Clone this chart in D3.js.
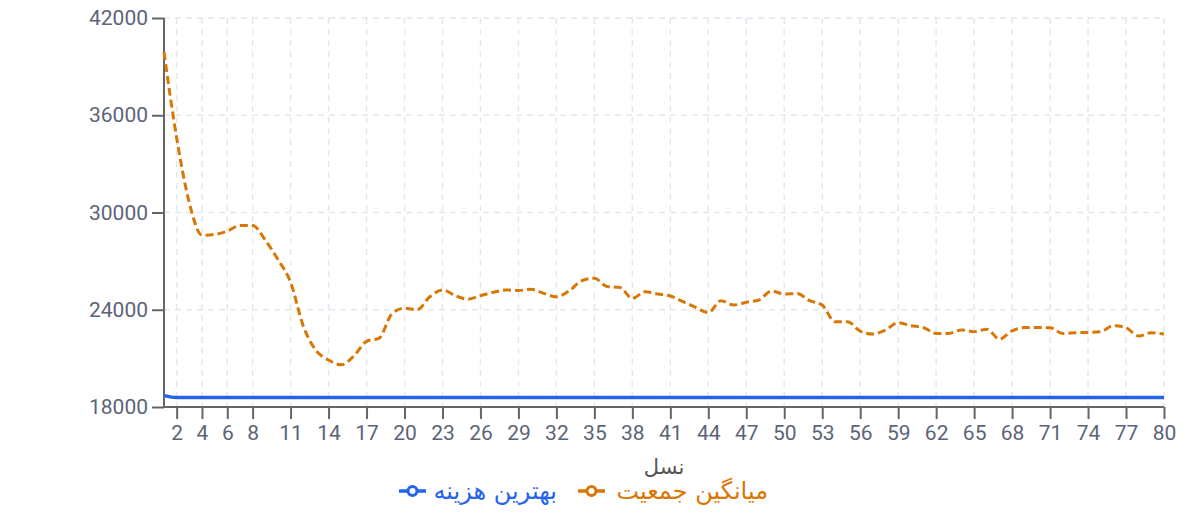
<!DOCTYPE html>
<html>
<head>
<meta charset="utf-8">
<script src="https://cdn.jsdelivr.net/npm/d3@7"></script>
<style>
  body { margin: 0; background: #fff; }
  svg { display: block; font-family: Roboto, "DejaVu Sans", sans-serif; }
</style>
</head>
<body>
<svg width="1188" height="522"></svg>
<script>
// generation numbers (x categories)
const generations = [1,2,3,4,5,6,7,8,9,10,11,12,13,14,15,16,17,18,19,20,
  21,22,23,24,25,26,27,28,29,30,31,32,33,34,35,36,37,38,39,40,
  41,42,43,44,45,46,47,48,49,50,51,52,53,54,55,56,57,58,59,60,
  61,62,63,64,65,66,67,68,69,70,71,72,73,74,75,76,77,78,79,80];

// best cost per generation
const bestCost = [18700,18580,18580,18580,18580,18580,18580,18580,18580,18580,
  18580,18580,18580,18580,18580,18580,18580,18580,18580,18580,
  18580,18580,18580,18580,18580,18580,18580,18580,18580,18580,
  18580,18580,18580,18580,18580,18580,18580,18580,18580,18580,
  18580,18580,18580,18580,18580,18580,18580,18580,18580,18580,
  18580,18580,18580,18580,18580,18580,18580,18580,18580,18580,
  18580,18580,18580,18580,18580,18580,18580,18580,18580,18580,
  18580,18580,18580,18580,18580,18580,18580,18580,18580,18580];

// population average per generation
const avgPopulation = [39900,34600,30600,28600,28650,28850,29200,29200,28300,27100,
  25700,23000,21500,20900,20600,21150,22050,22250,23750,24100,
  24000,24800,25220,24880,24650,24870,25070,25220,25190,25260,
  25010,24800,25160,25790,25940,25430,25380,24700,25110,24970,
  24850,24500,24150,23820,24560,24290,24460,24600,25160,24970,
  25000,24560,24290,23260,23260,22680,22500,22750,23200,23020,
  22900,22540,22540,22750,22650,22800,22190,22700,22900,22900,
  22890,22540,22580,22600,22650,23020,22890,22380,22580,22500];

const xTicks = [2,4,6,8,11,14,17,20,23,26,29,32,35,38,41,44,47,50,53,56,59,62,65,68,71,74,77,80];
const yTicks = [18000,24000,30000,36000,42000];

const xTitle = "نسل";
const seriesNames = ["بهترین هزینه", "میانگین جمعیت"];

const blue = "#2563eb", orange = "#d97706";
const labelColor = "#5b6478", axisColor = "#666", gridColor = "#e2e8f0";

let svg = d3.select("svg");
let margin = {top: 18, right: 24, bottom: 115, left: 164};
let w = +svg.attr("width") - margin.left - margin.right;
let h = +svg.attr("height") - margin.top - margin.bottom;
let g = svg.append("g").attr("transform", `translate(${margin.left},${margin.top})`);

let x = d3.scalePoint().domain(generations).range([0, w]);
let y = d3.scaleLinear().domain([18000, 42000]).range([h, 0]);

// grid
g.append("g").selectAll("line")
  .data(yTicks.slice(1))
  .enter().append("line")
  .attr("x1", 0).attr("x2", w)
  .attr("y1", d => y(d)).attr("y2", d => y(d))
  .attr("stroke", gridColor).attr("stroke-width", 1.5)
  .attr("stroke-dasharray", "6,5");

g.append("g").selectAll("line")
  .data(xTicks)
  .enter().append("line")
  .attr("x1", d => x(d)).attr("x2", d => x(d))
  .attr("y1", 0).attr("y2", h)
  .attr("stroke", gridColor).attr("stroke-width", 1.5)
  .attr("stroke-dasharray", "6,5");

// axes
let yAxis = g.append("g")
  .call(d3.axisLeft(y).tickValues(yTicks).tickSize(12).tickPadding(4).tickFormat(d3.format("d")));
let xAxis = g.append("g")
  .attr("transform", `translate(0,${h})`)
  .call(d3.axisBottom(x).tickValues(xTicks).tickSize(12).tickPadding(6));

[xAxis, yAxis].forEach(a => {
  a.select(".domain").attr("stroke", axisColor).attr("stroke-width", 2);
  a.selectAll(".tick line").attr("stroke", axisColor).attr("stroke-width", 2);
  a.selectAll(".tick text").attr("fill", labelColor).attr("font-size", 21)
    .attr("font-family", "Roboto, sans-serif");
});
// drop the end-caps so the axis lines end where the plot does
yAxis.select(".domain").attr("d", `M0,${h}V0`);
xAxis.select(".domain").attr("d", `M0,0H${w}`);

// lines
let line = d3.line().x((d, i) => x(generations[i])).y(d => y(d)).curve(d3.curveMonotoneX);

g.append("path").datum(avgPopulation)
  .attr("d", line)
  .attr("fill", "none").attr("stroke", orange)
  .attr("stroke-width", 3).attr("stroke-dasharray", "8,4");

g.append("path").datum(bestCost)
  .attr("d", line)
  .attr("fill", "none").attr("stroke", blue)
  .attr("stroke-width", 3.5);

// x title
svg.append("text")
  .attr("x", 664).attr("y", 474)
  .attr("text-anchor", "middle")
  .attr("fill", "#555").attr("font-size", 21)
  .attr("font-family", "'DejaVu Sans', sans-serif")
  .text(xTitle);

// legend
let legend = [
  {name: seriesNames[0], color: blue, x0: 399, tx: 557},
  {name: seriesNames[1], color: orange, x0: 578, tx: 768}
];
let lg = svg.append("g");
legend.forEach(d => {
  lg.append("line")
    .attr("x1", d.x0).attr("x2", d.x0 + 27)
    .attr("y1", 491).attr("y2", 491)
    .attr("stroke", d.color).attr("stroke-width", 3.5);
  lg.append("circle")
    .attr("cx", d.x0 + 13.5).attr("cy", 491).attr("r", 4.5)
    .attr("fill", "#fff").attr("stroke", d.color).attr("stroke-width", 3);
  lg.append("text")
    .attr("x", d.tx).attr("y", 499)
    .attr("text-anchor", "end")
    .attr("fill", d.color).attr("font-size", 24)
    .attr("font-family", "'DejaVu Sans', sans-serif")
    .text(d.name);
});
</script>
</body>
</html>
